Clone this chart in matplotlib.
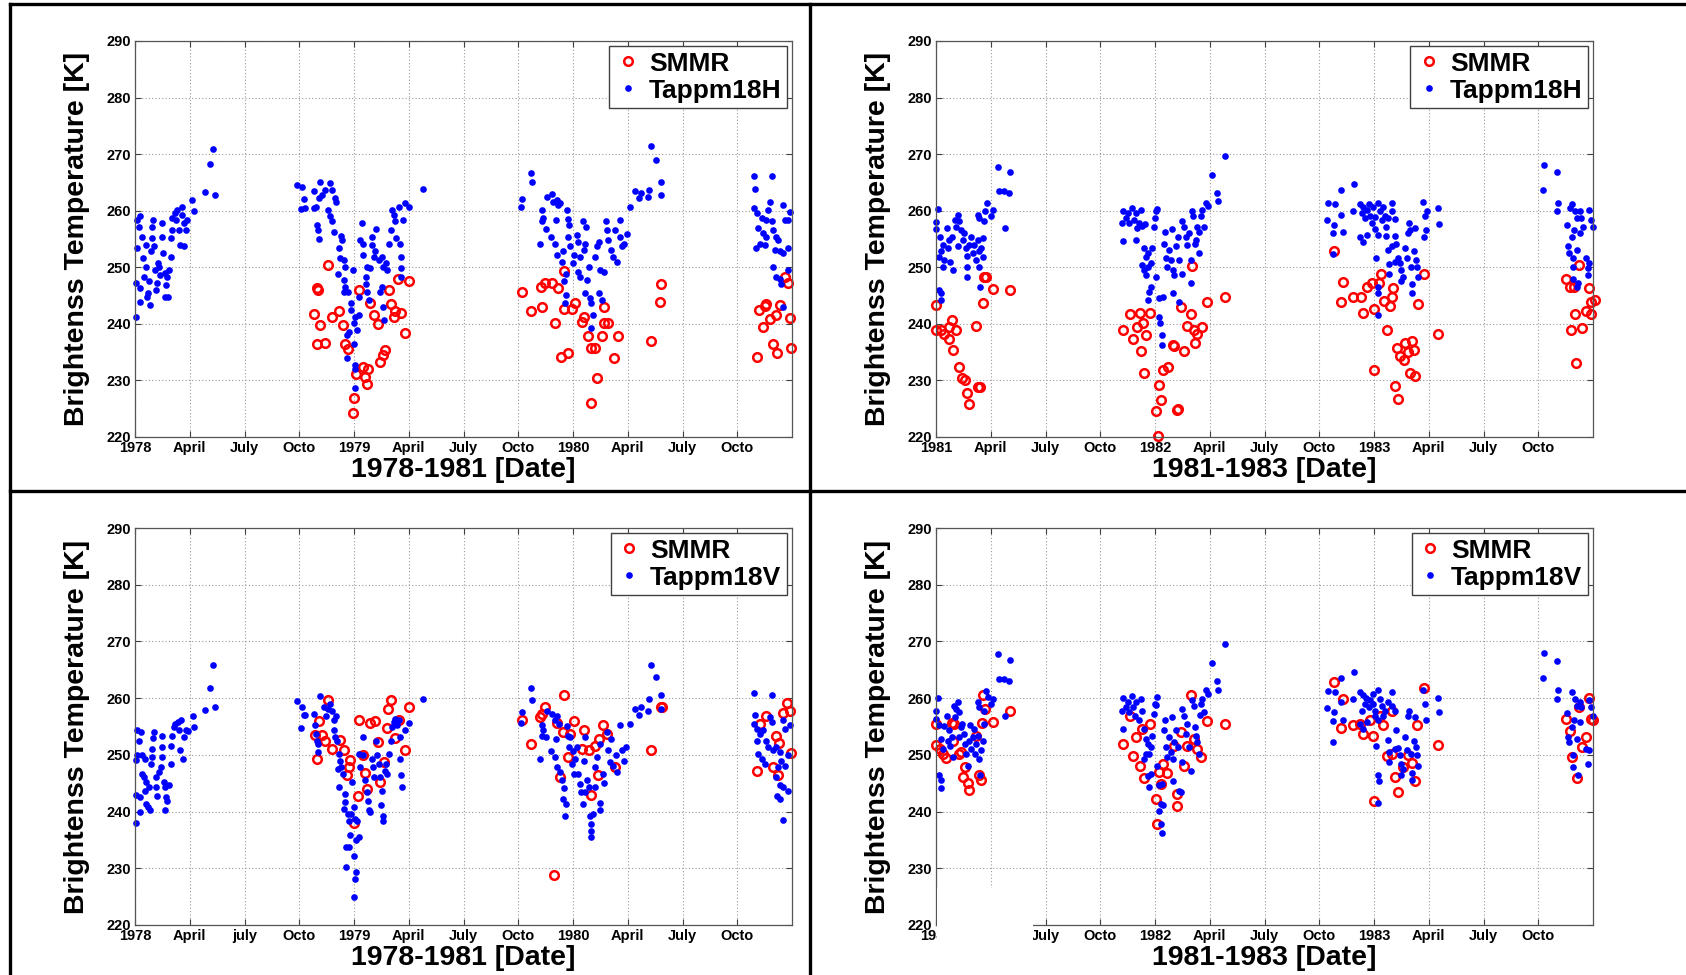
from matplotlib import pyplot as plt
from matplotlib import font_manager
from matplotlib.lines import Line2D
from matplotlib.patches import Rectangle
import numpy as np

# x values are months counted from 1 January of the first year in each panel
# (0 = Jan 1978 on the left panels, 0 = Jan 1981 on the right panels)

# ---- top left: 1978-1981, 18H ----
tl_smmr = [
    (10.56, 250.4), (9.98, 246.3), (10.04, 246.0), (9.8, 241.8), (10.16, 239.8), (9.95, 236.4),
    (10.4, 236.7), (10.77, 241.3), (11.2, 242.3), (11.39, 239.8), (11.53, 236.5), (11.68, 235.6),
    (12.26, 246.0), (12.9, 243.7), (13.08, 241.6), (13.3, 240.0), (12.48, 232.3), (12.77, 232.0),
    (12.13, 231.2), (12.58, 230.6), (12.7, 229.3), (11.99, 226.9), (11.93, 224.3), (13.45, 233.3),
    (13.58, 234.5), (13.72, 235.3), (13.9, 246.0), (14.0, 243.5), (14.23, 242.2), (14.42, 247.9),
    (15.0, 247.6), (14.18, 241.3), (14.6, 242.0), (14.8, 238.3),
    (21.2, 245.7), (21.7, 242.2), (22.3, 242.9), (22.24, 246.6), (22.47, 247.2), (22.84, 247.2),
    (23.17, 246.3), (23.0, 240.2), (23.33, 234.2), (23.75, 234.9), (23.5, 249.4), (23.5, 242.7),
    (23.94, 242.6), (24.1, 243.7), (24.5, 240.4), (24.6, 241.3), (24.8, 237.9), (24.97, 235.8),
    (25.2, 235.8), (25.3, 230.4), (24.97, 226.0), (25.6, 237.9), (25.7, 243.0), (25.7, 240.1),
    (25.9, 240.2), (26.44, 237.9), (26.26, 233.9), (28.3, 237.0), (28.75, 243.9), (28.83, 247.0),
    (34.07, 234.2), (34.2, 242.4), (34.5, 243.1), (34.6, 243.5), (34.4, 239.4), (34.8, 240.9),
    (35.15, 241.6), (35.35, 243.3), (34.98, 236.4), (35.2, 234.9), (35.9, 241.1), (35.95, 235.8),
    (35.8, 247.2), (35.6, 248.3),
]
tl_tap = [
    (0.04, 241.3), (0.13, 253.4), (0.13, 258.4), (0.3, 259.0), (0.2, 257.2), (0.36, 255.4),
    (0.04, 247.2), (0.25, 246.3), (0.3, 243.9), (0.5, 248.3), (0.44, 251.6), (0.58, 254.0),
    (0.62, 250.1), (0.77, 247.5), (0.67, 244.8), (0.8, 243.3), (0.73, 245.4), (0.86, 252.8),
    (0.95, 255.1), (0.95, 257.2), (0.99, 258.4), (1.04, 253.7), (1.1, 249.5), (1.22, 247.2),
    (1.17, 246.0), (1.28, 250.7), (1.31, 250.1), (1.37, 248.6), (1.5, 257.8), (1.5, 255.4),
    (1.53, 252.5), (1.64, 249.0), (1.68, 246.9), (1.64, 244.8), (1.82, 244.8), (1.77, 248.3),
    (1.86, 249.5), (1.95, 251.9), (1.95, 255.1), (2.04, 256.6), (2.04, 258.7), (2.19, 259.6),
    (2.23, 258.4), (2.32, 260.1), (2.41, 256.6), (2.45, 254.0), (2.55, 260.7), (2.59, 259.3),
    (2.68, 257.8), (2.68, 253.7), (2.77, 256.6), (2.86, 258.4), (3.14, 261.9), (3.23, 260.0),
    (3.83, 263.3), (4.09, 268.2), (4.27, 270.9), (4.38, 262.8),
    (8.89, 264.6), (9.16, 264.2), (9.25, 262.0), (9.12, 260.3), (9.34, 260.4), (9.8, 260.5),
    (9.93, 260.7), (9.8, 263.4), (10.16, 265.0), (10.07, 262.2), (10.26, 262.8), (10.4, 263.7),
    (10.7, 264.9), (10.8, 263.7), (10.98, 262.2), (11.0, 261.6), (10.6, 260.1), (10.7, 259.0),
    (10.8, 258.1), (10.9, 256.3), (9.98, 257.5), (10.04, 256.6), (10.07, 255.0), (11.3, 255.5),
    (11.35, 254.8), (11.17, 253.4), (11.26, 251.6), (11.44, 251.3), (11.53, 250.0), (11.13, 248.8),
    (11.44, 247.8), (11.53, 246.6), (11.44, 245.7), (11.68, 245.7), (11.93, 249.6), (11.81, 243.6),
    (11.86, 242.4), (12.08, 241.3), (11.99, 240.1), (12.18, 238.9), (11.7, 238.6), (11.6, 238.0),
    (11.99, 236.5), (11.6, 233.9), (12.08, 232.7), (12.04, 232.1), (12.03, 228.6), (12.26, 244.8),
    (12.3, 241.6), (12.45, 257.8), (12.48, 254.2), (12.35, 254.8), (12.5, 252.2), (12.64, 248.3),
    (12.72, 245.7), (12.8, 244.2), (12.96, 255.4), (13.0, 253.9), (13.08, 251.9), (13.2, 256.7),
    (13.17, 252.8), (13.36, 251.3), (12.72, 250.1), (12.64, 247.0), (12.9, 249.8), (13.54, 251.9),
    (13.6, 250.1), (13.76, 250.7), (13.8, 249.5), (13.54, 246.6), (13.45, 245.7), (13.58, 243.0),
    (13.64, 240.7), (13.9, 254.2), (14.0, 256.6), (14.09, 260.1), (14.18, 259.2), (14.27, 258.1),
    (14.3, 255.1), (14.45, 260.7), (14.54, 254.2), (14.6, 251.9), (14.6, 249.8), (14.6, 248.3),
    (14.8, 261.3), (15.0, 260.7), (14.67, 258.4), (15.8, 263.8),
    (21.71, 266.6), (21.74, 265.0), (21.2, 262.0), (21.16, 260.6), (22.2, 254.2), (22.29, 260.1),
    (22.38, 258.8), (22.29, 258.1), (22.53, 256.7), (22.6, 262.5), (22.84, 263.0), (22.93, 261.6),
    (23.1, 261.9), (23.2, 261.0), (23.3, 261.4), (23.08, 258.4), (22.79, 255.4), (23.02, 254.2),
    (23.66, 260.1), (23.7, 258.5), (23.8, 257.5), (23.1, 252.2), (23.4, 251.0), (23.47, 252.8),
    (23.75, 255.3), (23.84, 253.7), (24.2, 255.7), (24.3, 254.5), (24.03, 252.2), (23.99, 250.8),
    (24.4, 251.9), (24.54, 258.1), (24.72, 257.2), (24.67, 254.2), (24.58, 253.1), (23.6, 248.9),
    (23.5, 247.5), (23.6, 245.1), (23.55, 243.6), (24.3, 249.2), (24.4, 248.3), (24.76, 247.8),
    (24.85, 250.1), (24.67, 245.4), (24.94, 244.5), (25.0, 243.6), (25.1, 241.6), (25.0, 239.2),
    (25.2, 251.9), (25.3, 253.7), (25.4, 254.5), (25.5, 249.5), (25.45, 245.4), (25.6, 244.2),
    (25.7, 249.1), (25.8, 258.1), (25.85, 256.6), (25.9, 254.8), (26.1, 253.1), (26.3, 256.6),
    (26.2, 251.9), (26.4, 251.0), (26.55, 258.3), (26.58, 255.4), (26.67, 253.7), (26.8, 254.2),
    (26.95, 255.9), (27.1, 260.6), (27.4, 263.5), (27.6, 262.2), (27.7, 263.2), (28.1, 262.5),
    (28.15, 263.6), (28.3, 271.4), (28.55, 269.0), (28.8, 262.8), (28.83, 265.0),
    (33.93, 266.2), (34.9, 266.2), (33.98, 263.8), (34.8, 261.6), (34.7, 260.1), (33.9, 260.4),
    (34.1, 259.6), (34.35, 258.7), (34.6, 258.4), (34.9, 258.1), (35.5, 261.0), (35.6, 258.4),
    (35.9, 259.7), (35.8, 258.4), (34.16, 256.9), (34.4, 256.0), (34.6, 255.4), (34.97, 256.6),
    (35.15, 255.4), (35.24, 254.8), (34.05, 253.4), (34.25, 254.2), (34.5, 254.0), (35.06, 253.1),
    (35.35, 252.8), (35.5, 252.5), (35.8, 253.4), (34.97, 250.1), (35.1, 248.3), (35.35, 248.0),
    (35.4, 247.0), (35.8, 249.5), (35.5, 242.9),
]

# ---- top right: 1981-1983, 18H ----
tr_smmr = [
    (0.0, 243.3), (0.0, 238.9), (0.27, 238.9), (0.46, 238.2), (0.73, 237.3), (0.88, 240.7),
    (0.7, 239.5), (1.1, 238.9), (0.91, 235.4), (1.24, 232.4), (1.42, 230.5), (1.6, 230.1),
    (1.68, 227.8), (1.79, 225.9), (2.28, 228.9), (2.41, 228.9), (2.19, 239.6), (2.55, 243.7),
    (2.65, 248.3), (2.74, 248.2), (3.1, 246.1), (4.05, 246.0),
    (10.62, 241.7), (11.17, 242.0), (11.72, 242.0), (10.26, 238.9), (10.99, 239.5), (11.35, 240.1),
    (10.8, 237.4), (11.53, 238.0), (11.26, 235.2), (11.4, 231.4), (12.23, 229.2), (12.35, 226.5),
    (12.08, 224.6), (12.17, 220.1), (12.45, 231.8), (12.72, 232.3), (13.0, 236.3), (13.05, 236.1),
    (13.18, 224.7), (13.27, 225.0), (13.6, 235.2), (13.4, 243.0), (13.96, 241.7), (13.78, 239.6),
    (14.14, 238.9), (14.3, 238.2), (14.56, 239.4), (14.2, 236.7), (14.87, 243.8), (15.84, 244.8),
    (14.0, 250.2),
    (21.8, 252.8), (22.28, 247.4), (22.17, 243.9), (22.87, 244.8), (23.27, 244.8), (23.42, 242.0),
    (23.64, 246.5), (23.87, 247.2), (24.0, 242.7), (24.3, 247.2), (24.37, 248.8), (24.55, 244.1),
    (24.9, 243.2), (25.0, 244.8), (25.06, 246.3), (24.7, 238.9), (24.0, 231.8), (25.15, 229.1),
    (25.33, 226.8), (25.24, 235.8), (25.42, 234.3), (25.7, 236.7), (25.64, 233.6), (25.88, 235.1),
    (26.06, 237.0), (26.2, 235.4), (25.97, 231.4), (26.25, 230.8), (26.43, 243.5), (26.76, 248.9),
    (27.53, 238.2),
    (34.5, 248.0), (34.76, 246.6), (34.94, 246.6), (35.25, 250.4), (35.0, 241.7), (34.8, 239.0),
    (35.37, 239.3), (35.06, 233.1), (35.8, 246.3), (35.9, 243.9), (36.1, 244.3), (35.6, 242.2),
    (35.9, 241.7),
]
tr_tap = [
    (0.09, 260.3), (0.0, 258.0), (0.0, 256.7), (0.22, 255.4), (0.27, 252.9), (0.18, 251.9),
    (0.36, 254.0), (0.36, 250.1), (0.46, 251.3), (0.58, 256.9), (0.64, 253.4), (0.73, 254.8),
    (0.77, 251.0), (0.9, 255.4), (0.95, 249.5), (1.1, 257.2), (1.2, 259.3), (1.24, 258.1),
    (1.06, 258.4), (1.2, 253.7), (1.37, 256.6), (1.46, 254.8), (1.55, 256.0), (1.64, 253.4),
    (1.7, 252.0), (1.7, 250.1), (1.79, 254.0), (1.9, 255.4), (2.0, 252.5), (2.1, 254.0),
    (2.2, 251.3), (2.3, 254.8), (2.34, 250.1), (2.37, 252.8), (2.46, 253.4), (2.55, 255.1),
    (2.6, 251.9), (1.68, 248.2), (0.18, 246.0), (0.27, 245.4), (0.27, 244.2), (2.3, 259.3),
    (2.34, 258.8), (2.65, 258.1), (2.7, 259.9), (2.79, 261.3), (3.0, 259.1), (3.1, 260.1),
    (2.4, 246.5), (3.38, 267.8), (3.47, 263.5), (3.74, 263.5), (4.0, 263.1), (4.05, 266.8),
    (3.78, 256.9),
    (10.22, 254.7), (10.18, 257.9), (10.26, 260.0), (10.4, 258.7), (10.5, 259.6), (10.58, 257.8),
    (10.73, 260.4), (10.86, 258.4), (10.95, 259.6), (11.04, 256.9), (11.13, 257.9), (11.22, 260.1),
    (11.3, 257.3), (11.46, 257.7), (10.95, 254.8), (11.4, 253.4), (11.5, 251.9), (11.6, 252.5),
    (11.3, 250.4), (11.4, 249.5), (11.5, 248.6), (11.64, 250.1), (11.77, 250.7), (11.86, 253.4),
    (11.95, 257.2), (12.04, 259.9), (12.13, 260.3), (12.0, 258.7), (12.08, 248.2), (11.77, 246.6),
    (11.68, 245.7), (11.64, 244.3), (12.23, 244.5), (12.45, 244.8), (12.23, 241.3), (12.26, 240.2),
    (12.37, 238.0), (12.4, 236.3), (12.55, 256.3), (12.5, 254.2), (12.59, 251.6), (12.68, 250.1),
    (12.77, 253.1), (12.86, 251.3), (12.95, 256.7), (13.0, 249.5), (13.05, 248.6), (13.14, 253.7),
    (13.24, 255.4), (13.32, 251.2), (13.0, 245.4), (13.32, 243.9), (13.47, 248.8), (13.5, 258.1),
    (13.6, 257.2), (13.7, 255.4), (13.78, 254.0), (13.87, 256.1), (13.96, 251.3), (14.05, 259.9),
    (14.1, 259.0), (14.2, 254.2), (14.27, 254.8), (14.3, 257.1), (14.4, 252.5), (14.4, 256.3),
    (14.5, 259.1), (14.6, 260.1), (14.7, 257.1), (14.8, 261.4), (14.9, 260.9), (13.96, 247.2),
    (15.15, 266.3), (15.37, 263.2), (15.47, 261.7), (15.84, 269.7),
    (21.5, 261.3), (21.86, 261.2), (21.45, 258.4), (21.8, 257.5), (21.77, 256.0), (22.3, 256.3),
    (22.2, 259.3), (22.2, 263.7), (22.9, 264.7), (21.74, 252.4), (22.87, 260.0), (23.23, 261.2),
    (23.32, 259.6), (23.4, 260.7), (23.5, 258.7), (23.6, 260.1), (23.74, 261.2), (23.78, 259.1),
    (23.87, 257.9), (23.96, 260.6), (24.05, 258.9), (24.24, 261.4), (24.33, 259.9), (24.42, 258.4),
    (24.5, 260.7), (24.6, 259.1), (24.66, 257.2), (24.78, 258.8), (24.97, 261.3), (25.0, 259.9),
    (25.15, 258.5), (23.24, 255.3), (23.42, 254.5), (23.6, 255.7), (24.05, 256.7), (24.24, 255.7),
    (24.66, 255.5), (24.78, 253.1), (24.97, 253.7), (25.15, 255.5), (25.2, 254.2), (24.1, 251.6),
    (24.8, 250.6), (24.83, 248.8), (25.15, 251.0), (25.3, 251.6), (25.42, 250.7), (25.5, 249.5),
    (25.6, 248.3), (25.46, 247.5), (25.7, 253.4), (25.8, 251.6), (25.88, 256.0), (25.93, 257.8),
    (25.97, 256.6), (26.0, 250.0), (26.1, 247.0), (26.07, 245.5), (26.2, 252.8), (26.25, 256.9),
    (26.3, 251.3), (26.34, 250.1), (26.4, 248.3), (26.7, 261.6), (26.8, 259.1), (26.85, 256.6),
    (26.9, 260.0), (26.74, 255.4), (27.5, 260.4), (27.58, 257.6), (24.2, 246.6), (24.2, 245.4),
    (24.2, 241.6),
    (33.3, 268.1), (33.27, 263.7), (34.0, 266.8), (34.1, 261.4), (34.0, 260.0), (34.86, 261.2),
    (34.76, 260.5), (35.0, 259.9), (35.15, 258.8), (35.3, 259.9), (35.36, 258.7), (35.45, 257.2),
    (35.8, 260.1), (35.9, 258.4), (36.0, 257.1), (34.6, 257.5), (34.97, 256.6), (34.86, 255.3),
    (35.3, 256.0), (34.65, 253.7), (34.7, 252.5), (35.1, 253.1), (34.9, 251.6), (35.6, 251.6),
    (35.8, 250.7), (35.7, 249.8), (35.7, 248.6), (34.9, 250.0), (34.9, 248.0), (35.2, 247.2),
    (35.15, 246.5),
]

# ---- bottom left: 1978-1981, 18V ----
bl_smmr = [
    (10.58, 259.7), (10.07, 255.9), (9.85, 253.5), (10.26, 253.5), (10.4, 252.5), (9.98, 249.3),
    (10.8, 251.1), (11.26, 252.7), (11.44, 250.8), (11.8, 249.1), (11.75, 247.8), (11.62, 246.4),
    (11.99, 237.9), (12.2, 242.7), (12.3, 256.2), (12.5, 249.9), (12.6, 246.8), (12.72, 244.0),
    (12.9, 255.6), (13.14, 255.9), (13.32, 252.2), (13.45, 245.2), (13.63, 248.7), (13.8, 254.8),
    (13.86, 258.1), (14.03, 259.6), (14.23, 253.0), (14.45, 256.1), (14.8, 250.9), (15.0, 258.4),
    (21.2, 256.2), (21.7, 251.9), (22.29, 257.2), (22.47, 258.5), (22.2, 256.7), (23.1, 255.6),
    (23.47, 254.0), (23.5, 260.6), (24.05, 255.9), (23.84, 253.7), (23.75, 249.7), (23.3, 246.1),
    (22.97, 228.9), (24.6, 254.3), (24.5, 251.1), (24.85, 250.8), (25.2, 251.6), (25.45, 252.8),
    (25.66, 255.3), (25.35, 246.4), (25.0, 243.0), (25.85, 253.7), (26.3, 247.8), (28.3, 250.9),
    (28.8, 258.4), (28.9, 258.5),
    (34.07, 247.1), (34.25, 255.5), (34.6, 256.8), (35.13, 253.4), (35.3, 252.1), (34.97, 247.9),
    (35.24, 246.4), (35.5, 257.4), (35.75, 259.1), (35.9, 257.8), (35.95, 250.3),
]
bl_tap = [
    (0.04, 237.9), (0.26, 239.9), (0.04, 243.0), (0.26, 242.5), (0.04, 249.1), (0.13, 249.9),
    (0.13, 254.3), (0.31, 254.0), (0.22, 252.5), (0.4, 249.9), (0.55, 249.3), (0.37, 246.6),
    (0.5, 246.1), (0.62, 245.2), (0.55, 243.7), (0.77, 244.3), (0.62, 241.4), (0.8, 240.2),
    (0.73, 240.8), (0.86, 248.4), (0.95, 249.6), (0.95, 251.1), (0.99, 253.0), (1.04, 254.0),
    (1.13, 246.1), (1.17, 244.3), (1.22, 242.8), (1.31, 247.0), (1.4, 247.8), (1.46, 249.6),
    (1.5, 251.4), (1.5, 253.4), (1.6, 245.2), (1.64, 244.3), (1.64, 240.2), (1.68, 242.5),
    (1.77, 241.9), (1.86, 244.6), (1.95, 248.4), (1.95, 251.6), (2.04, 253.4), (2.12, 254.9),
    (2.2, 255.5), (2.37, 255.8), (2.41, 254.3), (2.5, 256.1), (2.45, 250.8), (2.63, 249.3),
    (2.68, 253.1), (2.77, 254.3), (2.9, 254.2), (3.17, 256.9), (3.23, 254.9), (3.83, 257.9),
    (4.09, 261.8), (4.27, 265.8), (4.38, 258.4),
    (8.89, 259.5), (9.16, 258.4), (9.25, 257.1), (9.12, 254.8), (9.34, 257.1), (9.8, 257.2),
    (9.85, 255.2), (9.93, 253.7), (10.04, 251.9), (10.04, 250.5), (9.98, 252.5), (10.16, 260.4),
    (10.35, 258.4), (10.44, 256.9), (10.6, 258.1), (10.7, 259.0), (10.8, 257.8), (10.9, 256.1),
    (11.0, 256.9), (10.9, 254.3), (10.98, 253.1), (11.07, 252.5), (11.17, 250.2), (11.26, 249.0),
    (11.3, 247.8), (11.13, 247.5), (11.17, 244.3), (11.4, 246.6), (11.5, 243.1), (11.53, 241.6),
    (11.44, 240.5), (11.68, 239.6), (11.7, 238.4), (11.86, 239.6), (11.9, 245.2), (11.99, 240.8),
    (12.08, 238.7), (12.18, 238.4), (12.26, 235.5), (12.13, 235.0), (11.8, 235.8), (11.57, 233.7),
    (11.7, 233.7), (11.99, 232.2), (11.57, 230.3), (12.13, 229.3), (12.04, 228.1), (11.99, 225.0),
    (12.3, 250.2), (12.35, 247.8), (12.48, 253.2), (12.5, 249.9), (12.6, 245.5), (12.72, 243.4),
    (12.77, 241.9), (12.8, 240.2), (12.9, 239.9), (13.0, 249.3), (13.05, 247.8), (13.1, 246.1),
    (13.2, 252.5), (13.27, 249.9), (13.36, 248.4), (13.45, 246.1), (13.54, 243.7), (13.5, 241.1),
    (13.58, 239.3), (13.58, 238.4), (13.68, 247.2), (13.76, 248.4), (13.8, 246.6), (13.9, 250.2),
    (14.0, 252.5), (14.09, 254.9), (14.18, 255.8), (14.27, 256.4), (14.36, 255.2), (14.45, 256.1),
    (14.5, 253.1), (14.54, 249.3), (14.6, 246.4), (14.63, 244.3), (14.78, 254.3), (15.0, 255.6),
    (15.8, 259.9),
    (21.7, 261.8), (21.74, 259.7), (21.2, 257.5), (21.16, 255.6), (22.2, 249.3), (22.29, 255.2),
    (22.38, 254.3), (22.29, 253.4), (22.53, 253.1), (22.6, 257.8), (22.84, 257.2), (23.02, 256.1),
    (23.1, 256.8), (23.26, 255.5), (23.08, 252.8), (22.79, 250.6), (23.02, 249.6), (23.1, 247.9),
    (23.3, 246.9), (23.4, 245.6), (23.5, 244.2), (23.47, 242.2), (23.6, 241.4), (23.55, 239.3),
    (23.66, 255.0), (23.7, 253.4), (23.84, 253.1), (23.78, 251.4), (23.99, 250.6), (24.2, 251.4),
    (24.12, 249.3), (23.94, 248.3), (24.03, 246.6), (24.3, 246.6), (24.36, 244.9), (24.43, 243.4),
    (24.54, 241.4), (24.67, 243.4), (24.76, 245.5), (24.58, 249.0), (24.67, 253.1), (24.85, 244.3),
    (24.94, 239.3), (25.0, 237.8), (25.0, 235.6), (25.0, 236.6), (25.1, 239.5), (25.2, 244.3),
    (25.2, 247.8), (25.3, 249.6), (25.5, 251.9), (25.5, 241.5), (25.5, 240.2), (25.7, 245.0),
    (25.67, 246.6), (25.85, 254.0), (25.9, 250.8), (26.03, 248.7), (26.1, 252.8), (26.2, 248.1),
    (26.35, 249.9), (26.4, 246.9), (26.55, 255.2), (26.67, 250.8), (26.77, 249.0), (26.9, 251.4),
    (27.1, 255.4), (27.4, 258.1), (27.6, 257.1), (27.7, 258.4), (28.1, 257.7), (28.15, 259.9),
    (28.3, 265.9), (28.55, 263.8), (28.8, 258.1), (28.83, 260.5),
    (33.93, 260.9), (34.9, 260.5), (33.98, 257.1), (33.9, 255.5), (34.1, 254.6), (34.25, 253.7),
    (34.4, 254.3), (34.6, 252.5), (34.8, 256.6), (34.9, 255.8), (34.7, 251.4), (34.1, 252.5),
    (34.16, 250.2), (34.35, 249.3), (34.5, 248.4), (34.97, 250.8), (35.15, 251.4), (35.35, 250.5),
    (35.24, 247.8), (35.4, 249.0), (35.6, 248.1), (35.8, 249.9), (35.5, 256.1), (35.6, 254.6),
    (35.9, 255.2), (35.1, 246.1), (35.35, 244.6), (35.5, 244.3), (35.8, 243.7), (35.2, 242.8),
    (35.35, 242.2), (35.5, 238.6),
]

# ---- bottom right: 1981-1983, 18V ----
br_smmr = [
    (0.0, 255.4), (0.0, 251.8), (0.22, 251.1), (0.36, 250.2), (0.55, 249.5), (0.88, 255.6),
    (1.0, 255.4), (0.95, 252.5), (1.28, 250.1), (1.37, 250.5), (1.6, 247.9), (1.46, 246.1),
    (1.73, 245.0), (1.82, 243.8), (2.19, 253.4), (2.37, 246.4), (2.46, 245.6), (2.5, 255.6),
    (2.6, 260.6), (2.7, 258.1), (3.1, 255.8), (4.05, 257.7),
    (10.26, 251.9), (10.62, 256.9), (10.8, 249.8), (10.98, 253.1), (11.2, 248.1), (11.3, 254.6),
    (11.4, 245.9), (11.72, 255.5), (12.08, 242.2), (12.13, 237.8), (12.23, 246.9), (12.32, 244.8),
    (12.45, 248.4), (12.68, 246.8), (13.05, 251.5), (13.18, 243.1), (13.18, 240.9), (13.4, 254.0),
    (13.6, 248.0), (13.78, 251.6), (13.96, 260.5), (14.14, 252.8), (14.3, 251.1), (14.5, 249.7),
    (14.87, 255.9), (15.84, 255.5),
    (21.8, 262.8), (22.28, 259.9), (22.17, 254.8), (22.87, 255.2), (23.24, 255.5), (23.42, 253.6),
    (23.78, 256.1), (23.96, 253.4), (24.33, 256.9), (24.5, 255.2), (24.97, 257.8), (24.7, 249.8),
    (25.0, 250.2), (25.6, 247.8), (25.88, 250.0), (26.1, 248.5), (25.15, 246.1), (25.33, 243.4),
    (24.0, 241.9), (26.25, 245.4), (26.37, 255.2), (26.74, 261.8), (27.53, 251.8),
    (34.5, 256.4), (34.76, 254.2), (34.86, 249.6), (35.15, 245.9), (35.25, 258.4), (35.4, 251.4),
    (35.6, 253.1), (35.8, 260.1), (35.9, 256.4), (36.0, 256.1),
]
br_tap = [
    (0.09, 260.1), (0.0, 257.8), (0.0, 256.4), (0.18, 255.2), (0.27, 252.8), (0.36, 251.1),
    (0.18, 246.4), (0.27, 245.5), (0.27, 244.2), (0.46, 255.0), (0.58, 256.9), (0.64, 252.5),
    (0.73, 254.4), (0.77, 251.6), (0.88, 253.1), (0.91, 249.6), (1.0, 258.7), (1.1, 258.1),
    (1.2, 259.3), (1.24, 257.5), (1.06, 256.6), (1.28, 253.1), (1.37, 254.9), (1.42, 255.5),
    (1.55, 253.7), (1.6, 251.9), (1.64, 250.2), (1.73, 248.1), (1.79, 252.5), (1.86, 255.2),
    (1.9, 251.1), (2.0, 253.1), (2.1, 254.6), (2.15, 250.2), (2.2, 251.9), (2.28, 253.4),
    (2.37, 249.3), (2.4, 246.4), (2.46, 250.8), (2.55, 252.5), (2.65, 255.5), (2.28, 259.3),
    (2.37, 258.5), (2.65, 257.8), (2.74, 261.2), (2.83, 260.2), (3.0, 259.0), (3.1, 259.9),
    (3.78, 256.8), (3.38, 267.7), (3.47, 263.4), (3.74, 263.4), (4.0, 263.0), (4.05, 266.8),
    (10.22, 254.6), (10.18, 257.7), (10.26, 260.1), (10.4, 258.4), (10.5, 259.3), (10.58, 257.5),
    (10.73, 260.3), (10.8, 258.4), (10.9, 256.8), (10.98, 259.3), (11.13, 256.1), (11.22, 259.9),
    (11.3, 257.8), (11.4, 254.6), (11.5, 252.8), (11.6, 251.9), (11.68, 250.2), (11.77, 251.4),
    (11.5, 250.2), (11.4, 249.3), (11.64, 246.2), (11.77, 246.6), (11.68, 244.3), (11.86, 253.4),
    (11.95, 257.2), (12.04, 258.8), (12.13, 260.2), (12.0, 258.9), (12.13, 248.1), (12.23, 244.6),
    (12.32, 241.4), (12.45, 241.1), (12.2, 240.1), (12.32, 237.8), (12.37, 236.2), (12.4, 244.9),
    (12.55, 256.2), (12.5, 254.3), (12.6, 251.4), (12.68, 249.6), (12.77, 253.1), (12.86, 250.5),
    (12.95, 256.6), (13.0, 249.3), (13.05, 252.2), (13.14, 254.3), (13.24, 251.4), (13.32, 243.7),
    (13.4, 243.4), (13.0, 245.4), (13.47, 248.7), (13.5, 258.1), (13.6, 256.9), (13.7, 253.7),
    (13.78, 255.5), (13.87, 251.4), (13.96, 247.1), (14.05, 259.6), (14.14, 258.7), (14.2, 254.9),
    (14.27, 253.4), (14.3, 252.2), (14.4, 250.2), (14.45, 257.1), (14.5, 258.9), (14.6, 259.9),
    (14.7, 257.5), (14.8, 261.4), (14.9, 260.8), (15.15, 266.2), (15.37, 263.1), (15.47, 261.5),
    (15.84, 269.5),
    (21.5, 261.2), (21.86, 261.1), (21.45, 258.2), (21.8, 257.5), (21.77, 255.9), (22.28, 256.1),
    (22.2, 259.3), (22.2, 263.6), (22.9, 264.6), (21.74, 252.2), (22.87, 259.9), (23.23, 261.1),
    (23.32, 257.8), (23.4, 260.5), (23.5, 259.0), (23.55, 260.1), (23.7, 258.4), (23.78, 259.6),
    (23.93, 260.8), (23.96, 259.0), (24.05, 257.8), (24.24, 261.4), (24.33, 259.9), (24.42, 258.7),
    (24.5, 256.9), (24.6, 257.8), (24.78, 259.3), (24.97, 261.1), (25.0, 258.7), (25.15, 257.8),
    (23.24, 255.5), (23.42, 254.6), (23.6, 255.8), (24.05, 256.8), (24.24, 256.1), (24.78, 252.6),
    (25.2, 254.3), (24.1, 251.5), (24.8, 250.5), (24.83, 248.7), (25.15, 251.1), (25.3, 251.2),
    (25.42, 249.9), (25.5, 248.4), (25.6, 247.5), (25.46, 246.4), (25.7, 253.1), (25.8, 250.8),
    (25.88, 256.9), (25.93, 257.8), (26.0, 250.2), (26.1, 246.8), (26.07, 245.5), (26.2, 252.5),
    (26.25, 256.6), (26.3, 251.4), (26.37, 249.9), (26.4, 248.1), (26.7, 261.5), (26.8, 259.0),
    (26.85, 256.1), (27.5, 260.1), (27.58, 257.5), (24.2, 246.5), (24.25, 245.4), (24.2, 241.5),
    (33.3, 268.0), (33.27, 263.6), (34.0, 266.6), (34.1, 261.4), (34.0, 259.9), (34.86, 261.1),
    (35.0, 259.9), (35.15, 258.7), (35.3, 259.3), (35.36, 258.4), (35.8, 259.6), (35.9, 258.4),
    (36.0, 256.9), (34.6, 257.4), (34.97, 256.1), (34.86, 254.9), (35.3, 255.8), (34.65, 253.1),
    (34.7, 252.2), (35.1, 252.8), (34.9, 249.9), (35.6, 251.1), (35.8, 250.8), (35.7, 248.4),
    (34.9, 247.9), (35.2, 246.4),
]

ticks_7881_h = ["1978", "April", "July", "Octo", "1979", "April", "July", "Octo",
                "1980", "April", "July", "Octo"]
ticks_7881_v = ["1978", "April", "july", "Octo", "1979", "April", "July", "Octo",
                "1980", "April", "July", "Octo"]
ticks_8183 = ["1981", "April", "July", "Octo", "1982", "April", "July", "Octo",
              "1983", "April", "July", "Octo"]

# matlab-ish condensed bold font if we have it
names = set(f.name for f in font_manager.fontManager.ttflist)
narrow = 'Liberation Sans Narrow' if 'Liberation Sans Narrow' in names else 'Liberation Sans'

W, H = 1686, 975
fig = plt.figure(figsize=(W / 100, H / 100), dpi=100)


def draw_panel(rect, smmr, tap, tap_name, ticklabels, xlabel):
    ax = fig.add_axes(rect)
    sm = np.array(smmr).T
    tp = np.array(tap).T
    ax.plot(sm[0], sm[1], 'o', ls='none', mfc='none', mec=(1, 0, 0), ms=6.2, mew=1.8,
            label='SMMR', clip_on=False)
    ax.plot(tp[0], tp[1], 'o', ls='none', color=(0, 0, 1), ms=4.8, mew=0,
            label=tap_name, clip_on=False)
    ax.set_xlim(0, 36)
    ax.set_ylim(220, 290)
    ax.set_xticks(np.arange(0, 36, 3))
    ax.set_xticklabels(ticklabels)
    ax.set_yticks(np.arange(220, 291, 10))
    ax.tick_params(direction='in', top=True, right=True, length=4, width=0.8,
                   color='#404040', labelsize=10.5, pad=3)
    for lab in ax.get_xticklabels() + ax.get_yticklabels():
        lab.set_fontfamily(narrow)
        lab.set_fontweight('bold')
        lab.set_fontstretch('condensed')
    ax.grid(True, color='#9a9a9a', linestyle=(0, (1, 2)), linewidth=0.8)
    for s in ax.spines.values():
        s.set_color('#555555')
        s.set_linewidth(0.9)
    ax.set_ylabel('Brightenss Temperature [K]', fontfamily='Liberation Sans',
                  fontweight='heavy', fontsize=20.5)
    ax.yaxis.set_label_coords(-0.068, 0.5)
    ax.text(0.5, -0.083, xlabel, transform=ax.transAxes, ha='center', va='center',
            fontfamily=narrow, fontweight='bold', fontsize=20.5)
    leg = ax.legend(loc='upper right', prop={'family': narrow, 'weight': 'bold', 'size': 19},
                    fancybox=False, framealpha=1, edgecolor='#404040',
                    borderpad=0.2, labelspacing=0.12, handlelength=1.0,
                    handletextpad=0.3, borderaxespad=0.2)
    leg.get_frame().set_linewidth(1.0)
    return ax


# axes boxes in pixels (left, top, right, bottom) of the 1686x975 picture
def px_rect(l, t, r, b):
    return [l / W, (H - b) / H, (r - l) / W, (b - t) / H]


draw_panel(px_rect(135, 41, 792, 437), tl_smmr, tl_tap, 'Tappm18H', ticks_7881_h, '1978-1981 [Date]')
draw_panel(px_rect(936, 41, 1593, 437), tr_smmr, tr_tap, 'Tappm18H', ticks_8183, '1981-1983 [Date]')
draw_panel(px_rect(135, 528, 792, 925), bl_smmr, bl_tap, 'Tappm18V', ticks_7881_v, '1978-1981 [Date]')
draw_panel(px_rect(936, 528, 1593, 925), br_smmr, br_tap, 'Tappm18V', ticks_8183, '1981-1983 [Date]')

# white patch that hides part of the bottom right x axis in the original
fig.add_artist(Rectangle((937 / W, (H - 946) / H), 96 / W, 58 / H, transform=fig.transFigure,
                         facecolor='white', edgecolor='none', zorder=10))

# black frame lines between the four pictures
frame = [((10, 4), (W, 4)), ((10, 4), (10, H)), ((810, 4), (810, H)), ((10, 491), (W, 491))]
for (x0, y0), (x1, y1) in frame:
    fig.add_artist(Line2D([x0 / W, x1 / W], [1 - y0 / H, 1 - y1 / H], transform=fig.transFigure,
                          color='black', linewidth=2.4, zorder=11))

fig.savefig('out.png', dpi=100)
